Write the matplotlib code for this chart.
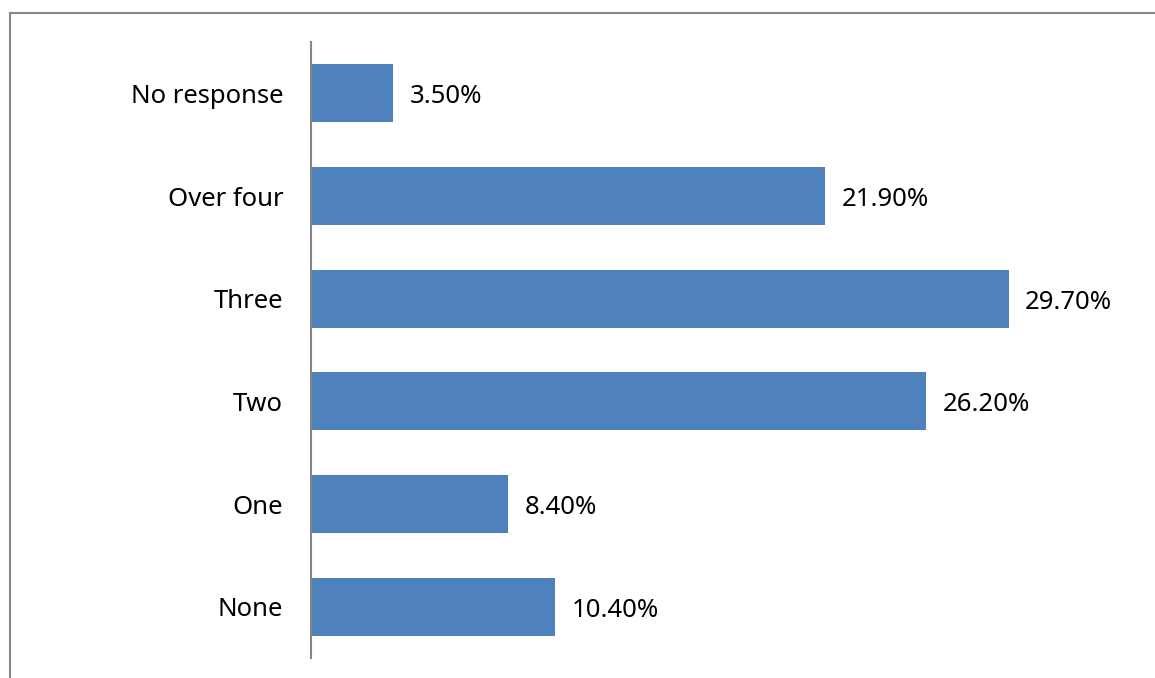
import matplotlib.pyplot as plt
from matplotlib.lines import Line2D

categories = ['None', 'One', 'Two', 'Three', 'Over four', 'No response']
values = [10.4, 8.4, 26.2, 29.7, 21.9, 3.5]
labels = ['10.40%', '8.40%', '26.20%', '29.70%', '21.90%', '3.50%']

plt.rcParams['font.family'] = ['Noto Sans', 'DejaVu Sans']

W, H = 1155, 678
fig = plt.figure(figsize=(W / 100, H / 100), dpi=100)
ax = fig.add_axes([311 / W, 1 - 658 / H, (1133 - 311) / W, (658 - 42) / H])

bars = ax.barh(range(len(categories)), values, height=0.565, color='#4F81BD')
for b, lab in zip(bars, labels):
    ax.annotate(lab, (b.get_width(), b.get_y() + b.get_height() / 2),
                xytext=(12, -2.5), textcoords='offset points',
                va='center', ha='left', fontsize=18.5, color='black')

ax.set_xlim(0, 35)
ax.set_ylim(-0.5, len(categories) - 0.5)
ax.set_yticks(range(len(categories)))
ax.set_yticklabels(categories, fontsize=18.5)
ax.tick_params(axis='y', length=0, pad=20)
ax.set_xticks([])
for s in ['top', 'right', 'bottom']:
    ax.spines[s].set_visible(False)
ax.spines['left'].set_color('#868686')
ax.spines['left'].set_linewidth(1.5)

# outer frame (only top and left visible in the crop)
fig.add_artist(Line2D([10 / W, 1], [1 - 13 / H, 1 - 13 / H], transform=fig.transFigure,
                      color='#888888', lw=1.5))
fig.add_artist(Line2D([10 / W, 10 / W], [1 - 13 / H, 0], transform=fig.transFigure,
                      color='#888888', lw=1.5))

fig.savefig('out.png', dpi=100)
